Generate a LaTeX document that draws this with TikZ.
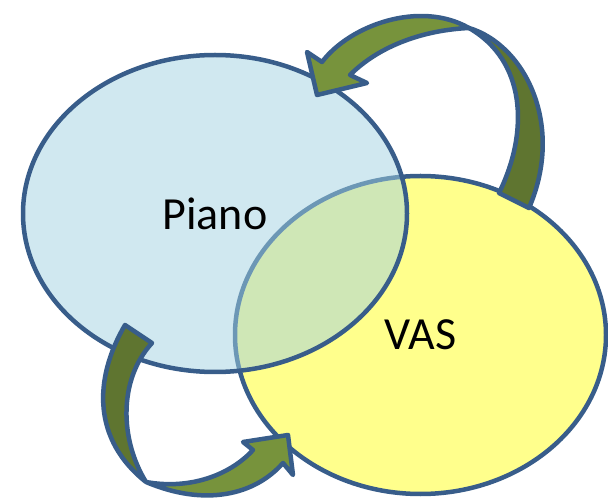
\documentclass[tikz,border=0pt]{standalone}
\usepackage{fontspec}
\setmainfont{Carlito}
\usetikzlibrary{shapes.geometric}

\definecolor{rim}{RGB}{56,93,138}
\definecolor{pianofill}{RGB}{161,209,225}
\definecolor{vasfill}{RGB}{255,255,140}
\definecolor{arrowlight}{RGB}{119,147,60}
\definecolor{arrowdark}{RGB}{95,117,48}

\begin{document}
\begin{tikzpicture}[x=1pt, y=-1pt, line width=4.5pt, line join=round,
		setbox/.style={ellipse, draw=rim, inner sep=0pt, font=\fontsize{46}{54}\selectfont},
		bendlight/.style={fill=arrowlight, draw=rim},
		benddark/.style={fill=arrowdark, draw=rim}]
			\useasboundingbox (0,0) rectangle (608,502);
			
			\node [setbox, fill=vasfill, minimum width=371pt, minimum height=318pt] (vas) at (420.5,335) {VAS};
			\node [setbox, fill=pianofill, fill opacity=0.5, text opacity=1, minimum width=384pt, minimum height=317pt] (piano) at (215,213.5) {Piano};
			
			%arrow from VAS back to Piano
			\coordinate (t1) at (469,28);
			\draw [benddark] (t1) .. controls (525,45) and (565,125) .. (529,208) -- (499,193) .. controls (530,130) and (525,60) .. (t1) -- cycle;
			\draw [bendlight] (322,62) -- (307,52) -- (317,95) -- (367,83) -- (350,75) .. controls (380,45) and (425,30) .. (t1) .. controls (420,0) and (350,25) .. (322,62) -- cycle;
			
			%arrow from Piano to VAS
			\coordinate (t2) at (146,482);
			\draw [benddark] (125,325) .. controls (93,380) and (93,440) .. (t2) .. controls (120,440) and (118,380) .. (152,343) -- cycle;
			\draw [bendlight] (t2) .. controls (205,507) and (255,495) .. (283,463) -- (293,475) -- (288,435) -- (243,442) -- (253,450) .. controls (230,475) and (190,490) .. (t2) -- cycle;
		\end{tikzpicture}
\end{document}
